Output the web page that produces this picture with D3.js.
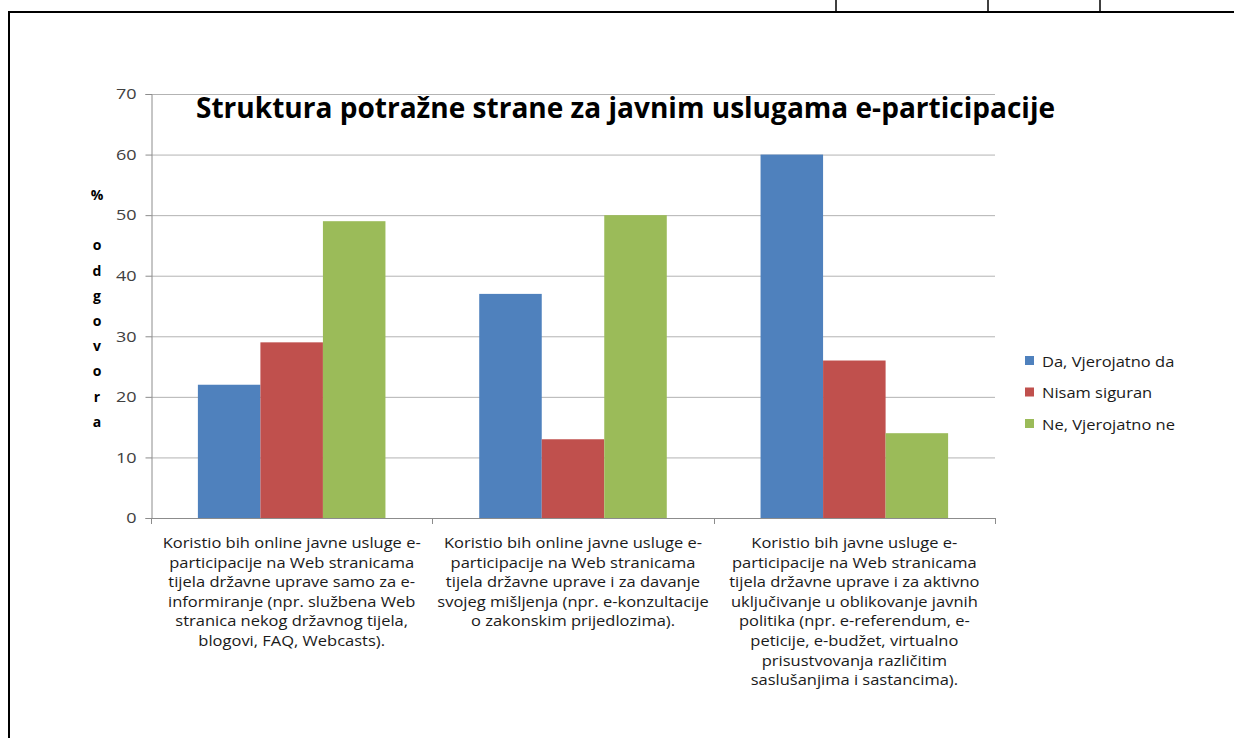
<!DOCTYPE html>
<html>
<head>
<meta charset="utf-8">
<script src="https://cdn.jsdelivr.net/npm/d3@7"></script>
<style>
  html, body { margin: 0; padding: 0; background: #fff; }
  svg { display: block; }
</style>
</head>
<body>
<svg id="chart" width="1234" height="738"></svg>
<script>
// Survey answers: share of respondents (%) per type of e-participation service
const categories = [
  "Koristio bih online javne usluge e-\nparticipacije na Web stranicama\ntijela državne uprave samo za e-\ninformiranje (npr. službena Web\nstranica nekog državnog tijela,\nblogovi, FAQ, Webcasts).",
  "Koristio bih online javne usluge e-\nparticipacije na Web stranicama\ntijela državne uprave i za davanje\nsvojeg mišljenja (npr. e-konzultacije\no zakonskim prijedlozima).",
  "Koristio bih javne usluge e-\nparticipacije na Web stranicama\ntijela državne uprave i za aktivno\nuključivanje u oblikovanje javnih\npolitika (npr. e-referendum, e-\npeticije, e-budžet, virtualno\nprisustvovanja različitim\nsaslušanjima i sastancima)."
];
const seriesNames = ["Da, Vjerojatno da", "Nisam siguran", "Ne, Vjerojatno ne"];
const daValues = [22, 37, 60];
const nisamValues = [29, 13, 26];
const neValues = [49, 50, 14];
const yTicks = [0, 10, 20, 30, 40, 50, 60, 70];
const colors = ["#4f81bd", "#c0504d", "#9bbb59"];
const title = "Struktura potražne strane za javnim uslugama e-participacije";
const yAxisTitle = "% odgovora";

const series = [daValues, nisamValues, neValues];
const svg = d3.select("#chart");
const bodyFont = "'Open Sans', Lato, sans-serif";
const wide = 1.1; // horizontal stretch of the body text

// Page frame lines
const frame = svg.append("g").attr("stroke", "#000");
frame.append("line").attr("x1", 8).attr("x2", 1234).attr("y1", 12).attr("y2", 12).attr("stroke-width", 2);
frame.append("line").attr("x1", 9).attr("x2", 9).attr("y1", 12).attr("y2", 738).attr("stroke-width", 2);
[836, 988, 1100].forEach(x => {
  frame.append("line").attr("x1", x).attr("x2", x).attr("y1", 0).attr("y2", 12).attr("stroke-width", 1.5);
});

const plot = { left: 151, right: 995, top: 94, bottom: 518 };

const x0 = d3.scaleBand().domain(d3.range(categories.length)).range([plot.left, plot.right]).paddingInner(0).paddingOuter(0);
// Excel-style gap: gap width 150% of a bar
const barW = x0.bandwidth() / 4.5;
const y = d3.scaleLinear().domain([0, 70]).range([plot.bottom, plot.top]);

// Gridlines
svg.append("g").selectAll("line").data(yTicks.filter(d => d > 0)).join("line")
  .attr("x1", plot.left).attr("x2", plot.right)
  .attr("y1", d => y(d) + 0.5).attr("y2", d => y(d) + 0.5)
  .attr("stroke", "#b3b3b3").attr("stroke-width", 1);

// Bars
series.forEach((vals, si) => {
  svg.append("g").selectAll("rect").data(vals).join("rect")
    .attr("x", (d, i) => x0(i) + barW * 0.75 + si * barW)
    .attr("width", barW)
    .attr("y", d => y(d))
    .attr("height", d => y(0) - y(d))
    .attr("fill", colors[si]);
});

// Y axis
const yAxis = d3.axisLeft(y).tickValues(yTicks).tickSize(6).tickPadding(8);
const ya = svg.append("g").attr("transform", `translate(${plot.left + 0.5},0)`).call(yAxis);
ya.select(".domain").attr("stroke", "#8c8c8c");
ya.selectAll(".tick line").attr("stroke", "#8c8c8c");
ya.selectAll(".tick text")
  .attr("x", 0)
  .attr("transform", "translate(-15,0) scale(1.2,1)")
  .attr("font-family", bodyFont).attr("font-size", 15).attr("fill", "#404040");

// X axis line and category separators
const xa = svg.append("g").attr("stroke", "#8c8c8c");
xa.append("line").attr("x1", plot.left).attr("x2", plot.right).attr("y1", plot.bottom + 0.5).attr("y2", plot.bottom + 0.5);
d3.range(categories.length + 1).forEach(i => {
  const xx = Math.round(plot.left + i * x0.bandwidth()) + 0.5;
  xa.append("line").attr("x1", xx).attr("x2", xx).attr("y1", plot.bottom).attr("y2", plot.bottom + 6);
});

// Category labels
categories.forEach((c, i) => {
  const cx = x0(i) + x0.bandwidth() / 2;
  const t = svg.append("text")
    .attr("transform", `translate(${cx},548) scale(${wide},1)`)
    .attr("text-anchor", "middle")
    .attr("font-family", bodyFont)
    .attr("font-size", 15)
    .attr("fill", "#1a1a1a");
  c.split("\n").forEach((line, li) => {
    t.append("tspan").attr("x", 0).attr("dy", li === 0 ? 0 : 19.6).text(line);
  });
});

// Title
svg.append("text")
  .attr("x", 196).attr("y", 118)
  .attr("font-family", bodyFont)
  .attr("font-weight", "bold")
  .attr("font-size", 28)
  .attr("textLength", 859)
  .attr("lengthAdjust", "spacingAndGlyphs")
  .attr("fill", "#000")
  .text(title);

// Vertical stacked y-axis title
const yt = svg.append("text")
  .attr("font-family", bodyFont)
  .attr("font-weight", "bold")
  .attr("font-size", 14)
  .attr("text-anchor", "middle")
  .attr("fill", "#000");
Array.from(yAxisTitle).forEach((ch, i) => {
  yt.append("tspan").attr("x", 97).attr("y", 200 + i * 25.2).text(ch === " " ? "\u00a0" : ch);
});

// Legend
const lg = svg.append("g").attr("transform", "translate(1025,361)");
seriesNames.forEach((name, i) => {
  const row = lg.append("g").attr("transform", `translate(0,${i * 31.5})`);
  row.append("rect").attr("x", 0).attr("y", -5).attr("width", 9).attr("height", 9).attr("fill", colors[i]);
  row.append("text").attr("transform", `translate(17,5.5) scale(${wide},1)`)
    .attr("font-family", bodyFont)
    .attr("font-size", 15).attr("fill", "#1a1a1a").text(name);
});
</script>
</body>
</html>
